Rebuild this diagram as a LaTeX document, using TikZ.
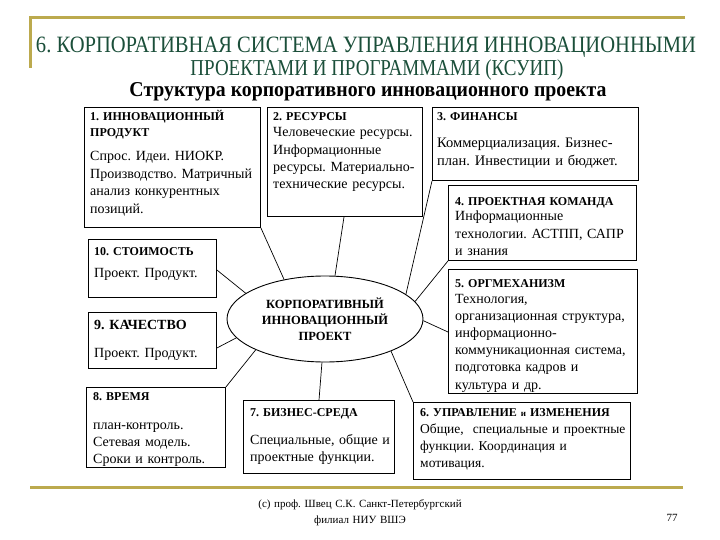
\documentclass[tikz,border=0pt]{standalone}
\usepackage{fontspec}
\setmainfont{Liberation Serif}
\usetikzlibrary{shapes.geometric,calc}
\definecolor{gold}{HTML}{BCAA4E}
\definecolor{tgreen}{HTML}{1B4F3A}
\begin{document}
\frenchspacing
\begin{tikzpicture}[x=1pt,y=-1pt,
  box/.style={draw=black, line width=0.9pt, inner sep=0pt, anchor=north west},
  hd/.style={anchor=base west, inner sep=0pt, font=\frenchspacing\fontsize{12}{16}\selectfont\bfseries, text width=220pt, align=left},
  bd/.style={anchor=base west, inner sep=0pt, font=\frenchspacing\fontsize{14}{17.2}\selectfont, text width=220pt, align=left},
  conn/.style={draw=black, line width=0.7pt},
  gl/.style={draw=gold, line width=3pt}]
\useasboundingbox[fill=white] (0,0) rectangle (720,540);
% gold frame lines
\draw[gl, line join=miter] (685,18) -- (30,18) -- (30,68);
\draw[gl] (30,487) -- (683,487);
% titles
\node[anchor=base, inner sep=0pt, text=tgreen] (title1) at (366,53) {\resizebox{660pt}{15.5pt}{6. КОРПОРАТИВНАЯ СИСТЕМА УПРАВЛЕНИЯ ИННОВАЦИОННЫМИ}};
\node[anchor=base, inner sep=0pt, text=tgreen] (title2) at (377,76) {\resizebox{373pt}{15.8pt}{ПРОЕКТАМИ И ПРОГРАММАМИ (КСУИП)}};
\node[anchor=base, inner sep=0pt] (sub) at (368,97) {\resizebox{477pt}{14pt}{\bfseries Структура корпоративного инновационного проекта}};
% boxes
\node[box, minimum width=176pt, minimum height=120pt] (b1) at (84,107) {};
\node[box, minimum width=155pt, minimum height=109pt] (b2) at (267,107) {};
\node[box, minimum width=206pt, minimum height=73pt] (b3) at (432,107) {};
\node[box, minimum width=188pt, minimum height=75pt] (b4) at (448,185) {};
\node[box, minimum width=189pt, minimum height=124pt] (b5) at (448,269) {};
\node[box, minimum width=217pt, minimum height=77pt] (b6) at (413,402) {};
\node[box, minimum width=151pt, minimum height=73pt] (b7) at (243,400) {};
\node[box, minimum width=139pt, minimum height=80pt] (b8) at (86,387) {};
\node[box, minimum width=128pt, minimum height=56pt] (b9) at (88,312) {};
\node[box, minimum width=128pt, minimum height=58pt] (b10) at (88,239) {};
% texts
\node[hd] (h1) at (90,121) {1. ИННОВАЦИОННЫЙ\\ПРОДУКТ};
\node[bd, font=\frenchspacing\fontsize{14}{17.5}\selectfont] (t1) at (90,161) {Спрос. Идеи. НИОКР.\\Производство. Матричный\\анализ конкурентных\\позиций.};
\node[hd] (h2) at (273,121) {2. РЕСУРСЫ};
\node[bd] (t2) at (273,137) {Человеческие ресурсы.\\Информационные\\ресурсы. Материально-\\технические ресурсы.};
\node[hd] (h3) at (437,121) {3. ФИНАНСЫ};
\node[bd, font=\frenchspacing\fontsize{14.5}{17.2}\selectfont] (t3) at (437,148) {Коммерциализация. Бизнес-\\план. Инвестиции и бюджет.};
\node[hd] (h4) at (455,206) {4. ПРОЕКТНАЯ КОМАНДА};
\node[bd] (t4) at (455,221) {Информационные\\технологии. АСТПП, САПР\\и знания};
\node[hd] (h5) at (455,287) {5. ОРГМЕХАНИЗМ};
\node[bd] (t5) at (455,303) {Технология,\\организационная структура,\\информационно-\\коммуникационная система,\\подготовка кадров и\\культура и др.};
\node[hd] (h6) at (420,416) {6. УПРАВЛЕНИЕ {\fontsize{9}{10}\selectfont и} ИЗМЕНЕНИЯ};
\node[bd, font=\frenchspacing\fontsize{13.5}{17.2}\selectfont] (t6) at (420,433) {Общие,~ специальные и проектные\\функции. Координация и\\мотивация.};
\node[hd] (h7) at (250,416) {7. БИЗНЕС-СРЕДА};
\node[bd] (t7) at (250,444) {Специальные, общие и\\проектные функции.};
\node[hd] (h8) at (93,400) {8. ВРЕМЯ};
\node[bd] (t8) at (93,429) {план-контроль.\\Сетевая модель.\\Сроки и контроль.};
\node[hd, font=\frenchspacing\fontsize{14}{16}\selectfont\bfseries] (h9) at (94,329) {9. КАЧЕСТВО};
\node[bd] (t9) at (94,357) {Проект. Продукт.};
\node[hd] (h10) at (94,255) {10. СТОИМОСТЬ};
\node[bd] (t10) at (94,277) {Проект. Продукт.};
% central ellipse
\node[draw, ellipse, line width=0.9pt, minimum width=196pt, minimum height=86pt, inner sep=0pt, align=center, font=\fontsize{12.5}{16}\selectfont\bfseries] (ell) at (325,319) {КОРПОРАТИВНЫЙ\\ИННОВАЦИОННЫЙ\\ПРОЕКТ};
% connectors
\draw[conn] (b1.south east) -- (ell.136);
\draw[conn] ($(b2.south west)+(77,0)$) -- (ell.77);
\draw[conn] (b3.south west) -- (ell.17);
\draw[conn] (b4.south west) -- (ell.11);
\draw[conn] ($(b5.north west)+(0,63)$) -- (ell.-1);
\draw[conn] (b6.north west) -- (ell.-26);
\draw[conn] ($(b7.north west)+(76,0)$) -- (ell.-94);
\draw[conn] (b8.north east) -- (ell.204);
\draw[conn] ($(b9.north east)+(0,36)$) -- (ell.192);
\draw[conn] ($(b10.north east)+(0,31)$) -- (ell.162);
% footer
\node[anchor=base, inner sep=0pt, text width=260pt, align=center, font=\frenchspacing\fontsize{11}{16}\selectfont] (foot) at (360,507) {(с) проф. Швец С.К. Санкт-Петербургский\\филиал НИУ ВШЭ};
\node[anchor=base, inner sep=0pt, font=\fontsize{11}{13}\selectfont] (page) at (672,521) {77};
\end{tikzpicture}
\end{document}
